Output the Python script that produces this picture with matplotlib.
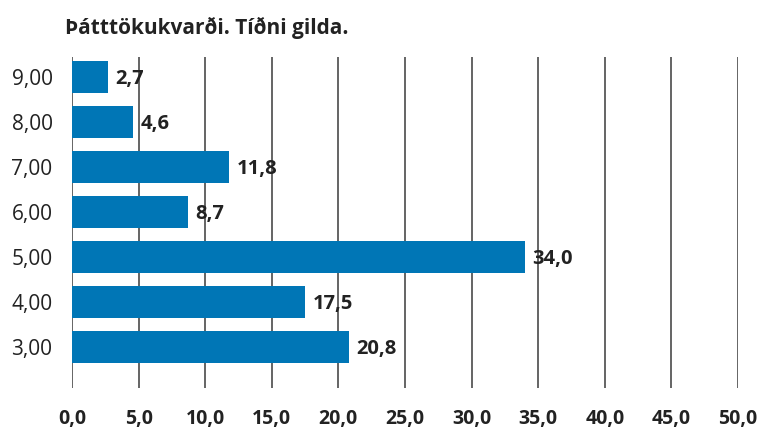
import matplotlib
matplotlib.use("Agg")
import matplotlib.pyplot as plt

# Frequency of each value on the participation scale
categories = ["3,00", "4,00", "5,00", "6,00", "7,00", "8,00", "9,00"]
positions = [3, 4, 5, 6, 7, 8, 9]
values = [20.8, 17.5, 34.0, 8.7, 11.8, 4.6, 2.7]
x_ticks = [0, 5, 10, 15, 20, 25, 30, 35, 40, 45, 50]

title = "Þátttökukvarði. Tíðni gilda."
bar_color = "#0076b6"
grid_color = "#4a4a4a"
text_color = "#222222"

plt.rcParams["font.family"] = ["Open Sans", "DejaVu Sans"]


def fmt(v, digits=1):
    return f"{v:.{digits}f}".replace(".", ",")


fig = plt.figure(figsize=(7.66, 4.29), dpi=100)
ax = fig.add_axes([72 / 766, 1 - 388 / 429, (738 - 72) / 766, (388 - 57) / 429])

# vertical gridlines behind the bars
for t in x_ticks:
    ax.axvline(t, color=grid_color, linewidth=1.2, zorder=1)

ax.barh(positions, values, height=0.69, color=bar_color, zorder=2)

for y, v in zip(positions, values):
    ax.text(v + 0.55, y - 0.05, fmt(v), ha="left", va="center",
            fontsize=14.5, fontweight="bold", color=text_color, zorder=3)

ax.set_xlim(0, 50)
ax.set_ylim(2.089, 9.444)
ax.set_xticks(x_ticks)
ax.set_xticklabels([fmt(t) for t in x_ticks], fontsize=14,
                   fontweight="bold", color=text_color)
ax.set_yticks(positions)
ax.set_yticklabels(categories, fontsize=15, color=text_color)
ax.tick_params(axis="x", length=0, pad=15)
ax.tick_params(axis="y", length=0, pad=14)
for s in ax.spines.values():
    s.set_visible(False)

fig.text(65 / 766, 1 - 28 / 429, title, ha="left", va="center",
         fontsize=15, fontweight="bold", color=text_color)

fig.savefig("out.png", dpi=100)
